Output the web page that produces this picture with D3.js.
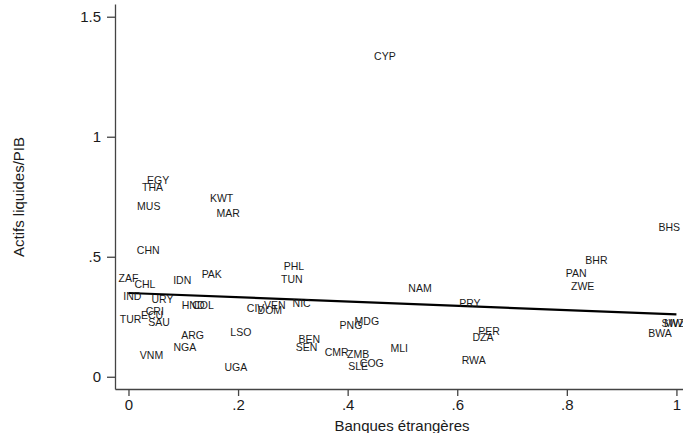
<!DOCTYPE html>
<html>
<head>
<meta charset="utf-8">
<script src="https://cdn.jsdelivr.net/npm/d3@7"></script>
<style>
  html, body { margin: 0; padding: 0; background: #fff; }
  svg { display: block; font-family: "Liberation Sans", Arial, Helvetica, sans-serif; }
</style>
</head>
<body>
<svg id="chart" width="683" height="433"></svg>
<script>
// Country codes and values (x: Banques étrangères, y: Actifs liquides/PIB)
const countries = ["CYP","EGY","THA","MUS","KWT","MAR","CHN","ZAF","CHL","IDN","PAK","IND","URY","HND","COL","CRI","ECU","TUR","SAU","ARG","NGA","VNM","LSO","UGA","CIV","DOM","VEN","NIC","PHL","TUN","PNG","MDG","BEN","SEN","CMR","ZMB","COG","SLE","MLI","NAM","PRY","PER","DZA","RWA","BHS","BHR","PAN","ZWE","BWA","SWZ","MWI"];
const foreignBanks = [0.468,0.054,0.044,0.037,0.170,0.182,0.036,0.000,0.030,0.098,0.152,0.007,0.062,0.118,0.136,0.048,0.043,0.004,0.056,0.117,0.103,0.042,0.205,0.196,0.232,0.258,0.267,0.316,0.302,0.298,0.406,0.435,0.330,0.325,0.380,0.419,0.444,0.419,0.494,0.532,0.623,0.658,0.647,0.630,0.987,0.854,0.817,0.829,0.970,0.994,0.997];
const liquidAssets = [1.336,0.820,0.789,0.711,0.743,0.681,0.528,0.4125,0.385,0.403,0.428,0.336,0.3225,0.301,0.301,0.275,0.259,0.239,0.229,0.174,0.1225,0.090,0.186,0.0425,0.285,0.278,0.299,0.306,0.4625,0.407,0.215,0.232,0.156,0.1225,0.102,0.093,0.056,0.045,0.118,0.368,0.306,0.192,0.164,0.070,0.6225,0.486,0.433,0.379,0.181,0.225,0.225];
// Linear fit endpoints
const fitX = [0, 1];
const fitY = [0.349, 0.26];
// Ticks
const xTicks = [0, 0.2, 0.4, 0.6, 0.8, 1];
const xTickLabels = ["0", ".2", ".4", ".6", ".8", "1"];
const yTicks = [0, 0.5, 1, 1.5];
const yTickLabels = ["0", ".5", "1", "1.5"];

const svg = d3.select("#chart");
const x = d3.scaleLinear().domain([-0.0246, 1.012]).range([115, 683]);
const y = d3.scaleLinear().domain([-0.051, 1.553]).range([389, 4]);

const axisColor = "#444";
const textColor = "#1a1a1a";

// Regression line
const fitData = fitX.map((d, i) => [d, fitY[i]]);
svg.append("path")
  .datum(fitData)
  .attr("fill", "none")
  .attr("stroke", "#000")
  .attr("stroke-width", 2.2)
  .attr("d", d3.line().x(d => x(d[0])).y(d => y(d[1])));

// Point labels
svg.append("g").selectAll("text")
  .data(countries)
  .join("text")
  .attr("x", (d, i) => x(foreignBanks[i]))
  .attr("y", (d, i) => y(liquidAssets[i]))
  .attr("text-anchor", "middle")
  .attr("dominant-baseline", "central")
  .attr("font-size", 10.5)
  .attr("fill", textColor)
  .text(d => d);

// X axis
const xAxis = d3.axisBottom(x)
  .tickValues(xTicks)
  .tickFormat((d, i) => xTickLabels[i])
  .tickSizeOuter(0)
  .tickSizeInner(7)
  .tickPadding(3);
const gx = svg.append("g").attr("transform", "translate(0,389)").call(xAxis);
gx.select(".domain").attr("stroke", axisColor).attr("stroke-width", 1.3);
gx.selectAll(".tick line").attr("stroke", axisColor).attr("stroke-width", 1.3);
gx.selectAll(".tick text").attr("font-size", 15).attr("fill", textColor)
  .attr("font-family", "Liberation Sans, Arial, sans-serif");

// Y axis
const yAxis = d3.axisLeft(y)
  .tickValues(yTicks)
  .tickFormat((d, i) => yTickLabels[i])
  .tickSizeOuter(0)
  .tickSizeInner(8)
  .tickPadding(6);
const gy = svg.append("g").attr("transform", "translate(115,0)").call(yAxis);
gy.select(".domain").attr("stroke", axisColor).attr("stroke-width", 1.3);
gy.selectAll(".tick line").attr("stroke", axisColor).attr("stroke-width", 1.3);
gy.selectAll(".tick text").attr("font-size", 15).attr("fill", textColor)
  .attr("font-family", "Liberation Sans, Arial, sans-serif");

// Axis titles
svg.append("text")
  .attr("x", 402).attr("y", 425)
  .attr("text-anchor", "middle")
  .attr("dominant-baseline", "central")
  .attr("font-size", 15)
  .attr("fill", textColor)
  .text("Banques étrangères");

svg.append("text")
  .attr("transform", "translate(18,197) rotate(-90)")
  .attr("text-anchor", "middle")
  .attr("dominant-baseline", "central")
  .attr("font-size", 15)
  .attr("fill", textColor)
  .text("Actifs liquides/PIB");
</script>
</body>
</html>
